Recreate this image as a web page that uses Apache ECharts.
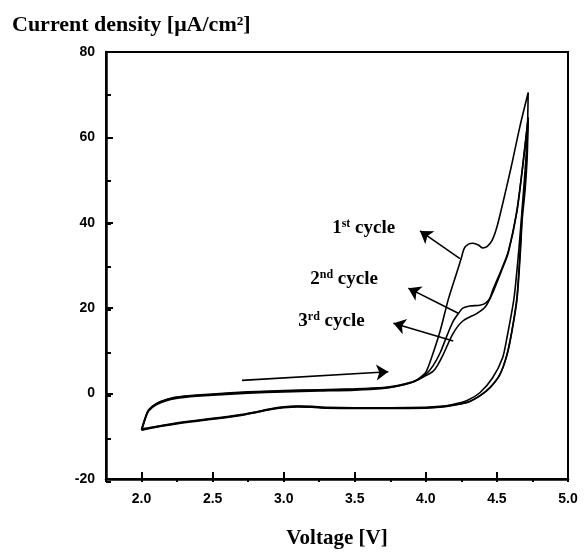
<!DOCTYPE html>
<html>
<head>
<meta charset="utf-8">
<script src="https://cdn.jsdelivr.net/npm/echarts@6.0.0/dist/echarts.min.js"></script>
<style>
html, body { margin: 0; padding: 0; background: #fff; }
#chart { width: 586px; height: 554px; }
</style>
</head>
<body>
<div id="chart"></div>
<script>
// [voltage V, current density uA/cm2]
const cycle1Anodic = [[2.00,-8.6],[2.01,-7.6],[2.025,-6.0],[2.05,-4.1],[2.10,-2.7],[2.18,-1.6],[2.30,-0.9],[2.50,-0.4],[2.75,0.1],[3.00,0.4],[3.25,0.6],[3.50,0.8],[3.70,1.2],[3.80,1.7],[3.90,2.6],[3.95,3.5],[4.00,5.0],[4.04,8.4],[4.10,14.6],[4.16,22.3],[4.22,28.6],[4.25,31.8],[4.27,34.0],[4.30,35.0],[4.33,35.2],[4.37,34.8],[4.40,34.1],[4.43,34.4],[4.465,35.8],[4.50,39.0],[4.54,44.4],[4.60,53.0],[4.66,62.3],[4.72,70.5]];
const cycle1Cathodic = [[4.72,70.5],[4.711,56.7],[4.697,49.0],[4.676,41.4],[4.662,32.8],[4.64,22.3],[4.605,14.7],[4.57,9.1],[4.52,4.4],[4.45,1.4],[4.38,-0.5],[4.29,-2.1],[4.17,-2.9],[4.10,-3.2],[4.00,-3.4],[3.75,-3.5],[3.50,-3.5],[3.30,-3.4],[3.20,-3.2],[3.10,-3.1],[3.00,-3.3],[2.90,-3.8],[2.80,-4.5],[2.70,-5.1],[2.50,-6.0],[2.30,-6.8],[2.15,-7.6],[2.05,-8.2],[2.00,-8.6]];

const cycle2Anodic = [[2.00,-8.3],[2.01,-7.3],[2.025,-5.7],[2.05,-3.8],[2.10,-2.4],[2.18,-1.3],[2.30,-0.6],[2.50,-0.1],[2.75,0.4],[3.00,0.7],[3.25,0.9],[3.50,1.1],[3.70,1.4],[3.80,1.9],[3.90,2.7],[3.95,3.4],[4.00,4.5],[4.05,6.5],[4.10,9.5],[4.15,13.7],[4.19,16.8],[4.23,18.8],[4.26,20.0],[4.31,20.5],[4.38,20.7],[4.42,21.2],[4.45,22.3],[4.47,24.2],[4.535,29.3],[4.58,33.3],[4.64,42.8],[4.68,53.0],[4.72,64.7]];
const cycle2Cathodic = [[4.72,64.7],[4.704,55.0],[4.683,45.6],[4.655,34.0],[4.62,22.3],[4.57,13.0],[4.54,8.4],[4.47,3.7],[4.38,0.2],[4.29,-1.6],[4.18,-2.6],[4.10,-3.0],[4.00,-3.2],[3.75,-3.3],[3.50,-3.3],[3.30,-3.2],[3.20,-3.0],[3.10,-2.9],[3.00,-3.1],[2.90,-3.6],[2.80,-4.3],[2.70,-4.9],[2.50,-5.8],[2.30,-6.6],[2.15,-7.4],[2.05,-8.0],[2.00,-8.3]];

const cycle3Anodic = [[2.00,-8.5],[2.01,-7.5],[2.025,-5.9],[2.05,-3.9],[2.10,-2.5],[2.18,-1.4],[2.30,-0.7],[2.50,-0.2],[2.75,0.3],[3.00,0.6],[3.25,0.8],[3.50,1.0],[3.70,1.3],[3.80,1.8],[3.90,2.6],[3.95,3.3],[4.00,4.2],[4.05,5.2],[4.08,6.5],[4.12,9.0],[4.19,14.0],[4.26,17.0],[4.36,18.8],[4.42,20.4],[4.47,23.6],[4.535,29.0],[4.58,33.0],[4.64,42.5],[4.68,52.8],[4.72,64.5]];
const cycle3Cathodic = [[4.72,64.5],[4.713,55.5],[4.699,48.0],[4.678,40.8],[4.664,32.6],[4.642,22.3],[4.607,14.8],[4.573,9.3],[4.523,4.6],[4.455,1.5],[4.385,-0.4],[4.295,-2.0],[4.17,-2.8],[4.10,-3.1],[4.00,-3.3],[3.75,-3.4],[3.50,-3.4],[3.30,-3.3],[3.20,-3.1],[3.10,-3.0],[3.00,-3.2],[2.90,-3.7],[2.80,-4.4],[2.70,-5.0],[2.50,-5.9],[2.30,-6.7],[2.15,-7.5],[2.05,-8.1],[2.00,-8.5]];

// annotations
const scanArrow = [[2.707,3.1],[3.736,5.1]];
const cycleArrows = [
  [[4.24,31.6],[3.959,38.1]],
  [[4.228,18.8],[3.877,24.7]],
  [[4.193,12.3],[3.772,16.5]]
];
const cycleLabelPos = [[3.341,38.8],[3.187,26.7],[3.103,17.0]];
const cycleNumbers = ['1','2','3'];
const cycleSuffixes = ['st','nd','rd'];

const xMajorTicks = [2.0,2.5,3.0,3.5,4.0,4.5,5.0];

const serif = '"Liberation Serif", "DejaVu Serif", serif';
const sans = '"Liberation Sans", Arial, sans-serif';

const chart = echarts.init(document.getElementById('chart'));

function loopSeries(name, anodic, cathodic) {
  return {
    name: name,
    type: 'line',
    data: anodic.concat(cathodic),
    showSymbol: false,
    smooth: 0.25,
    smoothMonotone: 'none',
    lineStyle: {color: '#000', width: 1.6},
    z: 3
  };
}

const gridRect = {left: 106, right: 18, top: 52, bottom: 72};

const option = {
  backgroundColor: '#fff',
  animation: false,
  title: {
    text: 'Current density [\u03bcA/cm\u00b2]',
    left: 7,
    top: 9,
    textStyle: {fontFamily: serif, fontWeight: 'bold', fontSize: 22, color: '#000'}
  },
  grid: [
    Object.assign({show: true, borderColor: '#000', borderWidth: 2, backgroundColor: 'transparent'}, gridRect),
    Object.assign({}, gridRect)
  ],
  xAxis: [
    {
      type: 'value',
      gridIndex: 0,
      min: 1.75,
      max: 5.0,
      axisLine: {onZero: false, lineStyle: {color: '#000', width: 2.5}},
      axisTick: {inside: true, length: 7, customValues: xMajorTicks, lineStyle: {color: '#000', width: 2}},
      axisLabel: {
        customValues: xMajorTicks,
        margin: 13,
        formatter: function (v) { return v.toFixed(1); },
        fontFamily: sans, fontWeight: 'bold', fontSize: 14, color: '#000'
      },
      splitLine: {show: false},
      name: 'Voltage [V]',
      nameLocation: 'middle',
      nameGap: 49,
      nameTextStyle: {fontFamily: serif, fontWeight: 'bold', fontSize: 21, color: '#000'}
    },
    {
      type: 'value',
      gridIndex: 1,
      min: 1.75,
      max: 5.0,
      interval: 0.25,
      axisLine: {show: false, onZero: false},
      axisTick: {inside: true, length: 4, lineStyle: {color: '#000', width: 2}},
      axisLabel: {show: false},
      splitLine: {show: false}
    }
  ],
  yAxis: [
    {
      type: 'value',
      gridIndex: 0,
      min: -20,
      max: 80,
      interval: 20,
      axisLine: {show: true, onZero: false, lineStyle: {color: '#000', width: 2.5}},
      axisTick: {show: true, inside: true, length: 7, lineStyle: {color: '#000', width: 2}},
      axisLabel: {margin: 11, fontFamily: sans, fontWeight: 'bold', fontSize: 14, color: '#000'},
      splitLine: {show: false}
    },
    {
      type: 'value',
      gridIndex: 1,
      min: -20,
      max: 80,
      interval: 10,
      axisLine: {show: false, onZero: false},
      axisTick: {show: true, inside: true, length: 5, lineStyle: {color: '#000', width: 2}},
      axisLabel: {show: false},
      splitLine: {show: false}
    }
  ],
  series: [
    loopSeries('1st cycle', cycle1Anodic, cycle1Cathodic),
    loopSeries('2nd cycle', cycle2Anodic, cycle2Cathodic),
    loopSeries('3rd cycle', cycle3Anodic, cycle3Cathodic),
    {
      type: 'lines',
      coordinateSystem: 'cartesian2d',
      data: [{coords: scanArrow}].concat(cycleArrows.map(function (a) { return {coords: a}; })),
      symbol: ['none', 'arrow'],
      symbolSize: [8, 12],
      lineStyle: {color: '#000', width: 1.6, opacity: 1, curveness: 0},
      silent: true,
      z: 4
    },
    {
      type: 'scatter',
      data: cycleLabelPos.map(function (p, i) {
        return {value: p, label: {formatter: '{n|' + cycleNumbers[i] + '}{s|' + cycleSuffixes[i] + '}{n| cycle}'}};
      }),
      symbolSize: 0,
      silent: true,
      label: {
        show: true,
        position: 'right',
        distance: 0,
        color: '#000',
        opacity: 1,
        textBorderWidth: 0,
        rich: {
          n: {fontFamily: serif, fontWeight: 'bold', fontSize: 19, lineHeight: 21, color: '#000'},
          s: {fontFamily: serif, fontWeight: 'bold', fontSize: 12, lineHeight: 12, verticalAlign: 'top', color: '#000'}
        }
      },
      z: 5
    }
  ]
};

chart.setOption(option);
</script>
</body>
</html>
